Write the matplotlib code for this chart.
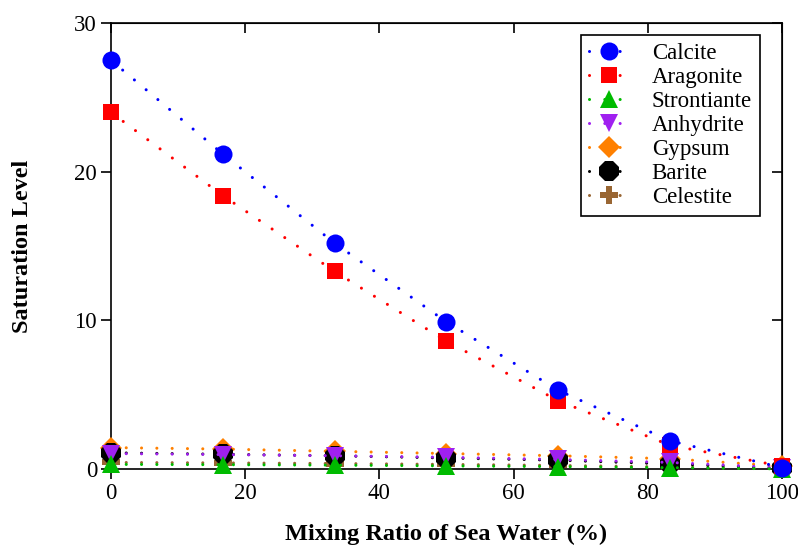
# saturation_plot.py

import matplotlib
matplotlib.use("Agg")
import matplotlib.pyplot as plt

# ---------- DATA ----------
mixing_ratio = [0, 16.67, 33.33, 50, 66.67, 83.33, 100]

calcite = [27.5, 21.2, 15.2, 9.9, 5.3, 1.9, 0.1]
aragonite = [24.0, 18.4, 13.3, 8.6, 4.6, 1.6, 0.2]
strontianite = [0.32, 0.3, 0.27, 0.22, 0.17, 0.1, 0.02]
anhydrite = [1.05, 0.98, 0.9, 0.8, 0.65, 0.45, 0.1]
gypsum = [1.45, 1.35, 1.2, 1.05, 0.9, 0.7, 0.2]
barite = [1.1, 1.0, 0.9, 0.75, 0.6, 0.35, 0.05]
celestite = [0.45, 0.42, 0.38, 0.32, 0.25, 0.15, 0.02]

x_ticks = [0, 20, 40, 60, 80, 100]
y_ticks = [0, 10, 20, 30]

# name, values, colour, marker, size, z-order
series = [
    ("Calcite", calcite, "#0000FF", "o", 13, 9),
    ("Aragonite", aragonite, "#FF0000", "s", 12, 8),
    ("Strontiante", strontianite, "#00BB00", "^", 13, 7),
    ("Anhydrite", anhydrite, "#A020F0", "v", 13, 6),
    ("Gypsum", gypsum, "#FF8000", "D", 11, 4),
    ("Barite", barite, "#000000", "8", 15, 5),
    ("Celestite", celestite, "#996633", "P", 13, 3),
]

# ---------- PLOT ----------
plt.rcParams["font.family"] = ["Liberation Serif", "DejaVu Serif"]

fig = plt.figure(figsize=(7.98, 5.5), dpi=100)
ax = fig.add_axes([0.139, 0.147, 0.841, 0.811])

for name, values, color, marker, size, z in series:
    ax.plot(mixing_ratio, values, color=color, linestyle=(0, (0.01, 5)),
            linewidth=2.2, dash_capstyle="round", marker=marker,
            markersize=size, markeredgewidth=0, label=name,
            clip_on=False, zorder=z)

ax.set_xlim(0, 100)
ax.set_ylim(0, 30)
ax.set_xticks(x_ticks)
ax.set_yticks(y_ticks)
ax.tick_params(direction="out", length=7, width=1.2, labelsize=16.5, pad=3)
for side in ax.spines.values():
    side.set_linewidth(1.2)

# mirrored inward ticks on top and right
top = ax.secondary_xaxis("top")
top.set_xticks(x_ticks)
top.tick_params(direction="in", length=7, width=1.2, labeltop=False)
right = ax.secondary_yaxis("right")
right.set_yticks(y_ticks)
right.tick_params(direction="in", length=7, width=1.2, labelright=False)

ax.set_xlabel("Mixing Ratio of Sea Water (%)", fontsize=17.5, fontweight="bold", labelpad=14)
ax.set_ylabel("Saturation Level", fontsize=17.5, fontweight="bold", labelpad=30)

leg = ax.legend(loc="upper right", bbox_to_anchor=(0.967, 0.973), fontsize=16.5,
                numpoints=1, handlelength=1.75, labelspacing=0.13,
                handletextpad=1.0, borderpad=0.35, borderaxespad=0,
                fancybox=False, edgecolor="black", framealpha=1)
leg.get_frame().set_linewidth(1.2)

fig.savefig("out.png", dpi=100)
